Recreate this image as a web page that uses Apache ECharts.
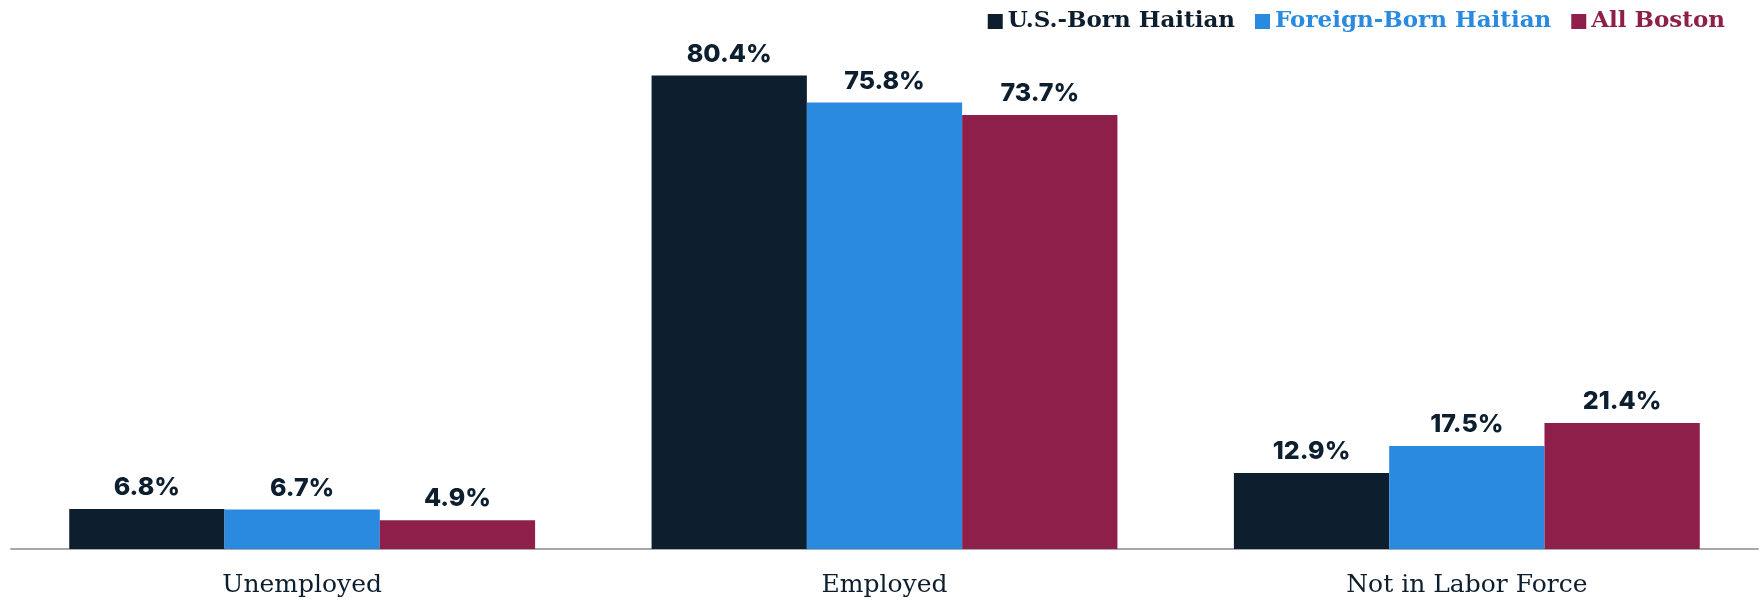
<!DOCTYPE html>
<html>
<head>
<meta charset="utf-8">
<script src="https://cdn.jsdelivr.net/npm/echarts@6/dist/echarts.min.js"></script>
<style>
html,body{margin:0;padding:0;background:#fff;}
#chart{width:1763px;height:600px;}
</style>
</head>
<body>
<div id="chart"></div>
<script>
const categories = ['Unemployed', 'Employed', 'Not in Labor Force'];
const seriesNames = ['U.S.-Born Haitian', 'Foreign-Born Haitian', 'All Boston'];
const usBorn = [6.8, 80.4, 12.9];
const foreignBorn = [6.7, 75.8, 17.5];
const allBoston = [4.9, 73.7, 21.4];
const colors = ['#0d1f2e', '#2a8ae0', '#8e1f4a'];

const valueSets = [usBorn, foreignBorn, allBoston];
const chart = echarts.init(document.getElementById('chart'));
chart.setOption({
  animation: false,
  color: colors,
  grid: { left: 11, right: 5, top: 19, bottom: 51, containLabel: false },
  legend: {
    right: 33,
    top: 5,
    itemWidth: 15,
    itemHeight: 15,
    itemGap: 20,
    icon: 'rect',
    data: seriesNames.map((n, i) => ({
      name: n,
      textStyle: { color: colors[i] }
    })),
    textStyle: { fontFamily: 'DejaVu Serif', fontWeight: 'bold', fontSize: 23 }
  },
  xAxis: {
    type: 'category',
    data: categories,
    axisLine: { lineStyle: { color: '#a8a8a8', width: 2 } },
    axisTick: { show: false },
    axisLabel: {
      margin: 24,
      color: '#0d1f2e',
      fontFamily: 'DejaVu Serif',
      fontWeight: 500,
      fontSize: 25
    }
  },
  yAxis: {
    type: 'value',
    min: 0,
    max: 90,
    show: false,
    splitLine: { show: false }
  },
  series: seriesNames.map((n, i) => ({
    name: n,
    type: 'bar',
    data: valueSets[i],
    barGap: '0%',
    barCategoryGap: '20%',
    itemStyle: { color: colors[i] },
    label: {
      show: true,
      position: 'top',
      distance: 9,
      color: '#0d1f2e',
      fontFamily: 'Inter',
      fontWeight: 800,
      fontSize: 25,
      formatter: p => p.value.toFixed(1) + '%'
    }
  }))
});
</script>
</body>
</html>
